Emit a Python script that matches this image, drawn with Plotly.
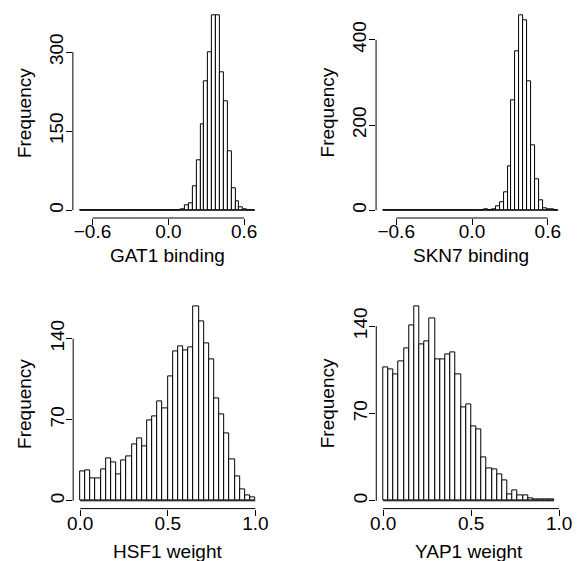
import plotly.graph_objects as go

FONT = "Liberation Sans, Arial, Helvetica, sans-serif"

# ---------------- data ----------------
# GAT1 binding: 45 equal-width bins between the first and last break
gat1_first_break = -0.700
gat1_last_break = 0.685
gat1_counts = [0, 0, 0, 0, 0, 0, 0, 0, 0, 0, 0, 0, 0, 0, 0, 0, 0, 0, 0, 0, 0, 0, 0, 0, 0, 0,
               2, 9, 14, 46, 95, 163, 244, 299, 370, 369, 261, 206, 111, 41, 16, 6, 2,
               0, 0]
gat1_xticks = [-0.6, 0.0, 0.6]
gat1_xticklabels = ["\u22120.6", "0.0", "0.6"]
gat1_yticks = [0, 150, 300]
gat1_yticklabels = ["0", "150", "300"]

# SKN7 binding: 45 equal-width bins
skn7_first_break = -0.704
skn7_last_break = 0.683
skn7_counts = [0, 0, 0, 0, 0, 0, 0, 0, 0, 0, 0, 0, 0, 0, 0, 0, 0, 0, 0, 0, 0, 0, 0, 0, 0, 0,
               1, 0, 1,
               9, 19, 41, 102, 259, 372, 458, 445, 302, 152, 72, 23, 5, 2,
               1, 0]
skn7_xticks = [-0.6, 0.0, 0.6]
skn7_xticklabels = ["\u22120.6", "0.0", "0.6"]
skn7_yticks = [0, 200, 400]
skn7_yticklabels = ["0", "200", "400"]

# HSF1 weight: 34 equal-width bins on [0, 1]
hsf1_first_break = 0.0
hsf1_last_break = 1.0
hsf1_counts = [25, 26, 19, 19, 27, 37, 33, 23, 35, 38, 49, 54, 47, 69, 73, 86, 80,
               107, 129, 133, 130, 132, 168, 155, 136, 122, 88, 75, 58, 36, 21, 10, 5, 3]
hsf1_xticks = [0.0, 0.5, 1.0]
hsf1_xticklabels = ["0.0", "0.5", "1.0"]
hsf1_yticks = [0, 70, 140]
hsf1_yticklabels = ["0", "70", "140"]

# YAP1 weight: 33 bins of width 1/34 starting at 0
yap1_first_break = 0.0
yap1_last_break = 33 / 34
yap1_counts = [107, 105, 101, 112, 122, 141, 156, 125, 128, 146, 113, 113, 117, 119, 101,
               75, 77, 60, 57, 35, 26, 25, 21, 16, 5, 8, 4, 4, 2, 1, 1, 1, 1]
yap1_xticks = [0.0, 0.5, 1.0]
yap1_xticklabels = ["0.0", "0.5", "1.0"]
yap1_yticks = [0, 70, 140]
yap1_yticklabels = ["0", "70", "140"]

x_titles = ["GAT1 binding", "SKN7 binding", "HSF1 weight", "YAP1 weight"]
y_title = "Frequency"

# ---------------- layout (pixel geometry) ----------------
W, H = 586, 561
# plot regions in pixels: (left, right, top, bottom)
regions = [
    (69.0, 264.0, 7.3, 218.0),
    (381.8, 577.0, 7.3, 218.0),
    (69.3, 264.5, 298.4, 508.6),
    (382.0, 572.4, 298.4, 508.6),
]
xtitle_y_px = [256.0, 256.0, 551.0, 551.0]
ytitle_x_px = [19.0, 332.0, 19.0, 332.0]
xlabel_standoff = [-10, -10, -8, -8]

panels = [
    (gat1_first_break, gat1_last_break, gat1_counts, gat1_xticks, gat1_xticklabels, gat1_yticks, gat1_yticklabels),
    (skn7_first_break, skn7_last_break, skn7_counts, skn7_xticks, skn7_xticklabels, skn7_yticks, skn7_yticklabels),
    (hsf1_first_break, hsf1_last_break, hsf1_counts, hsf1_xticks, hsf1_xticklabels, hsf1_yticks, hsf1_yticklabels),
    (yap1_first_break, yap1_last_break, yap1_counts, yap1_xticks, yap1_xticklabels, yap1_yticks, yap1_yticklabels),
]

fig = go.Figure()
layout = dict(
    width=W, height=H, autosize=False,
    margin=dict(l=0, r=0, t=0, b=0, pad=0),
    paper_bgcolor="white", plot_bgcolor="white",
    showlegend=False,
    font=dict(family=FONT, size=19, color="black"),
    shapes=[], annotations=[],
)

for i, (lo, hi, counts, xt, xtl, yt, ytl) in enumerate(panels, start=1):
    n = len(counts)
    w = (hi - lo) / n
    centers = [lo + (k + 0.5) * w for k in range(n)]
    xs = "" if i == 1 else str(i)
    xa, ya = "x" + xs, "y" + xs

    # baseline (zero-count bins are drawn as a line in R)
    fig.add_trace(go.Scatter(x=[lo, hi], y=[0, 0], mode="lines",
                             line=dict(color="black", width=1),
                             xaxis=xa, yaxis=ya, hoverinfo="skip"))
    fig.add_trace(go.Bar(x=centers, y=counts, width=w,
                         marker=dict(color="white", line=dict(color="black", width=1)),
                         xaxis=xa, yaxis=ya))

    L, R, T, B = regions[i - 1]
    span = hi - lo
    ymax = max(counts)
    layout["xaxis" + xs] = dict(
        domain=[L / W, R / W], anchor=ya,
        range=[lo - 0.04 * span, hi + 0.04 * span],
        tickvals=xt, ticktext=xtl, ticks="outside", ticklen=6, tickwidth=1,
        tickcolor="black", showline=False, showgrid=False, zeroline=False,
        ticklabelstandoff=xlabel_standoff[i - 1],
        tickfont=dict(family=FONT, size=19, color="black"),
    )
    layout["yaxis" + xs] = dict(
        domain=[1 - B / H, 1 - T / H], anchor=xa,
        range=[-0.04 * ymax, 1.04 * ymax],
        tickvals=yt, ticktext=ytl, ticks="outside", ticklen=6, tickwidth=1,
        tickcolor="black", showline=False, showgrid=False, zeroline=False,
        tickangle=-90, ticklabelstandoff=-5,
        tickfont=dict(family=FONT, size=19, color="black"),
    )
    # R-style axis lines spanning first to last tick
    layout["shapes"].append(dict(type="line", xref=xa, yref=ya + " domain",
                                 x0=xt[0], x1=xt[-1], y0=0, y1=0,
                                 line=dict(color="black", width=1)))
    layout["shapes"].append(dict(type="line", xref=xa + " domain", yref=ya,
                                 x0=0, x1=0, y0=yt[0], y1=yt[-1],
                                 line=dict(color="black", width=1)))
    # axis titles
    layout["annotations"].append(dict(
        text=x_titles[i - 1], xref="paper", yref="paper",
        x=(L + R) / 2 / W, y=1 - xtitle_y_px[i - 1] / H,
        xanchor="center", yanchor="middle", showarrow=False,
        font=dict(family=FONT, size=19, color="black")))
    layout["annotations"].append(dict(
        text=y_title, xref="paper", yref="paper",
        x=ytitle_x_px[i - 1] / W, y=1 - (T + B) / 2 / H,
        xanchor="center", yanchor="middle", textangle=-90, showarrow=False,
        font=dict(family=FONT, size=19, color="black")))

fig.update_layout(**layout)
fig.update_layout(bargap=0)
fig.write_html(
    "out.html",
    config={"responsive": False, "displayModeBar": False},
    post_script="document.body.style.margin='0px';document.body.style.overflow='hidden';",
)
